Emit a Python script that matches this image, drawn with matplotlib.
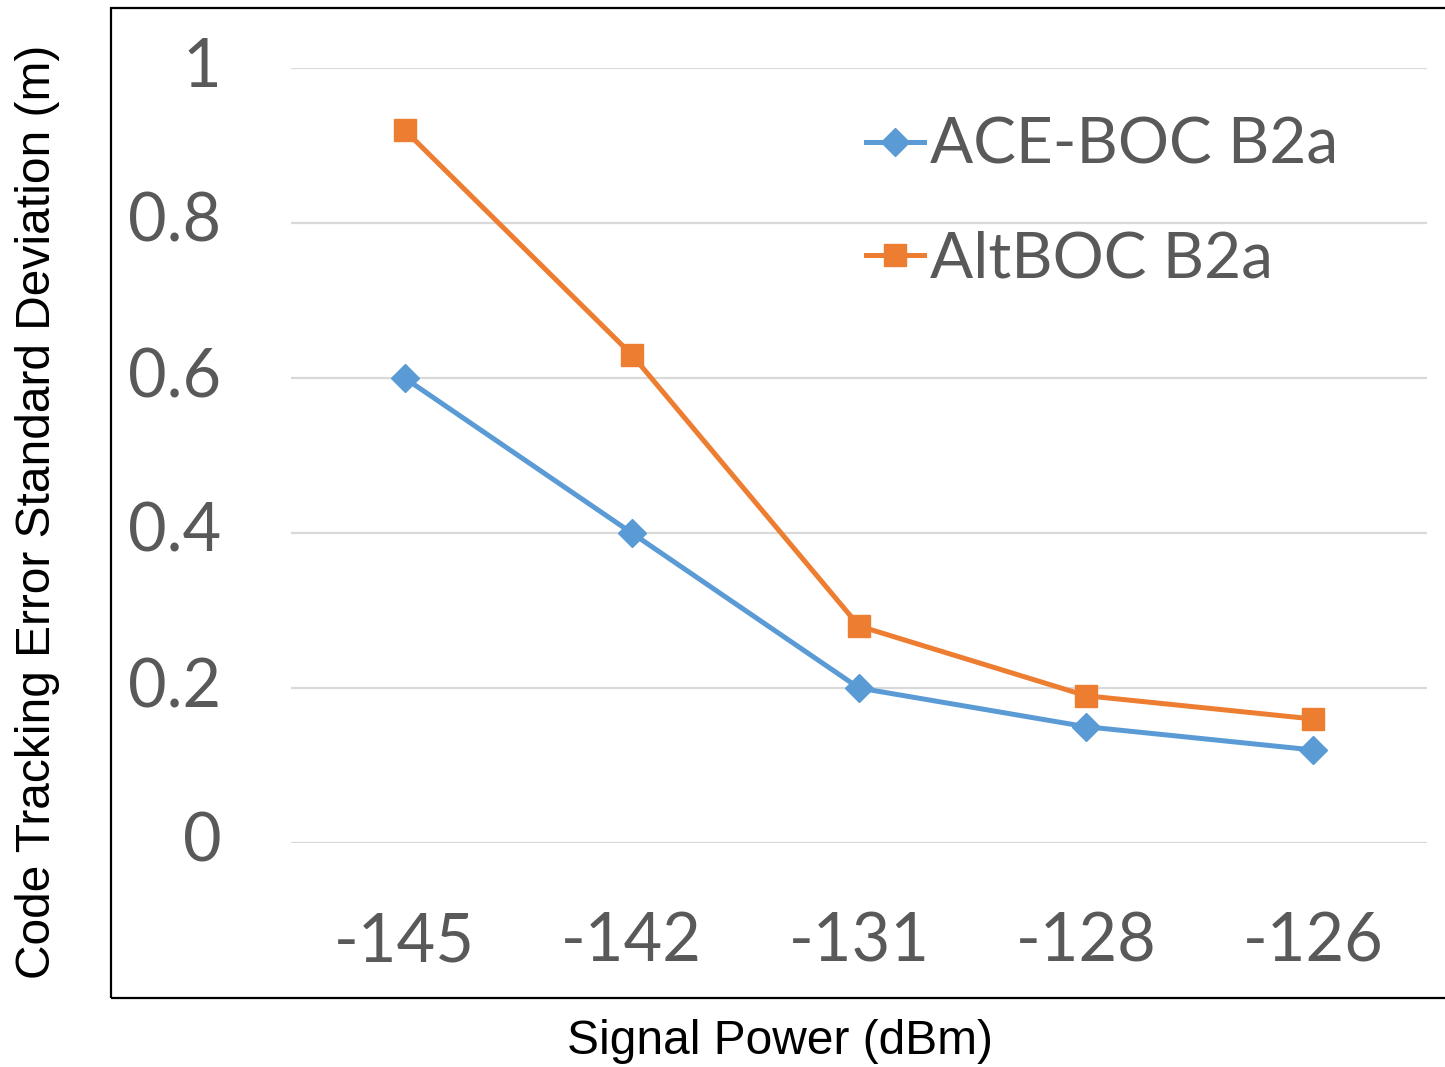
import matplotlib
matplotlib.use("Agg")
import matplotlib.pyplot as plt
from matplotlib.patches import Rectangle

# datos
potencias = ["-145", "-142", "-131", "-128", "-126"]
ace_boc = [0.60, 0.40, 0.20, 0.15, 0.12]
altboc = [0.92, 0.63, 0.28, 0.19, 0.16]
yticks = [0, 0.2, 0.4, 0.6, 0.8, 1]
ytick_labels = ["0", "0.2", "0.4", "0.6", "0.8", "1"]

W, H = 1445, 1067
fig = plt.figure(figsize=(W / 100, H / 100), dpi=100)

# area del grafico (pixeles de la referencia)
left, right, top, bottom = 291, 1427, 68, 843
ax = fig.add_axes([left / W, (H - bottom) / H, (right - left) / W, (bottom - top) / H])

x = range(len(potencias))
ax.plot(x, ace_boc, color="#5B9BD5", lw=3.6, marker="D", ms=14, label="ACE-BOC B2a", clip_on=False)
ax.plot(x, altboc, color="#ED7D31", lw=3.6, marker="s", ms=16, label="AltBOC B2a", clip_on=False)

ax.set_xlim(-0.5, len(potencias) - 0.5)
ax.set_ylim(0, 1)
ax.set_xticks(list(x))
ax.set_xticklabels(potencias)
ax.set_yticks(yticks)
ax.set_yticklabels(ytick_labels)
ax.grid(axis="y", color="#D9D9D9", lw=1.6)
ax.set_axisbelow(True)
for s in ax.spines.values():
    s.set_visible(False)

for lab in ax.get_xticklabels() + ax.get_yticklabels():
    lab.set_fontfamily("Lato")
    lab.set_fontsize(48)
    lab.set_color("#595959")
    if lab in ax.get_yticklabels():
        lab.set_verticalalignment("center")
ax.tick_params(axis="x", length=0, pad=49)
ax.tick_params(axis="y", length=0, pad=50)

leg = ax.legend(loc="upper left", bbox_to_anchor=(866 / W, (H - 117) / H),
                bbox_transform=fig.transFigure, frameon=False,
                prop={"family": "Lato", "size": 46}, handlelength=0.9,
                handletextpad=0.1, labelspacing=0.87, borderpad=0, borderaxespad=0)
for t in leg.get_texts():
    t.set_color("#595959")

# marco exterior
fig.patches.append(Rectangle((111 / W, (H - 998) / H), (W - 111 + 10) / W, (998 - 8) / H,
                             transform=fig.transFigure, fill=False, edgecolor="black", lw=1.6))

fig.text(780 / W, (H - 1042) / H, "Signal Power (dBm)", ha="center", va="center",
         family="Liberation Sans", fontsize=34.5)
fig.text(38 / W, (H - 512) / H, "Code Tracking Error Standard Deviation (m)", ha="center",
         va="center", rotation=90, family="Liberation Sans", fontsize=34.5)

fig.savefig("out.png", dpi=100)
